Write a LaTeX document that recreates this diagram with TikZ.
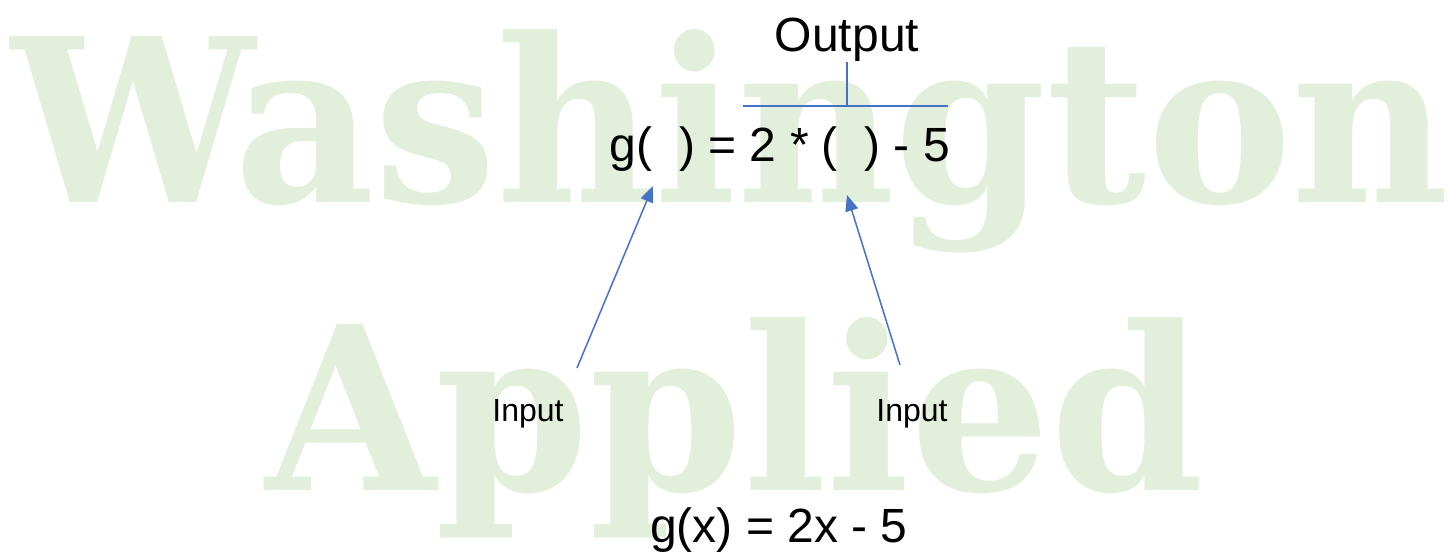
\documentclass[tikz,border=0pt]{standalone}
\usepackage{fontspec}
\setmainfont{Liberation Sans}
\newfontfamily\wmfont{DejaVu Serif Condensed}
\usetikzlibrary{arrows.meta}
\definecolor{wmgreen}{HTML}{E2EFDA}
\definecolor{lnblue}{HTML}{4472C4}
\tikzset{
  wmtext/.style={inner sep=0pt, outer sep=0pt, anchor=base west, text=wmgreen},
  bigtext/.style={inner sep=0pt, outer sep=0pt, anchor=base, font=\fontsize{24pt}{28pt}\selectfont},
  smalltext/.style={inner sep=0pt, outer sep=0pt, anchor=base, font=\fontsize{16pt}{19pt}\selectfont},
  bline/.style={draw=lnblue, line width=0.75pt},
  barrow/.style={bline, -{Triangle[length=8pt,width=6.5pt]}}
}
\begin{document}
\begin{tikzpicture}[x=0.5pt,y=-0.5pt]
\useasboundingbox (0,0) rectangle (1448,555);
% watermark
\node[wmtext] (wm1) at (11,203) {\resizebox{718.5pt}{86.5pt}{\wmfont\bfseries Washington}};
\node[wmtext] (wm2) at (265,491) {\resizebox{469.5pt}{86.5pt}{\wmfont\bfseries Applied}};
% texts
\node[bigtext] (out) at (847,52) {Output};
\node[bigtext] (eq) at (780,162) {g(\ \ ) = 2 * (\ \ ) - 5};
\node[smalltext] (inL) at (528,422) {Input};
\node[smalltext] (inR) at (912,422) {Input};
\node[bigtext] (fx) at (779,543) {g(x) = 2x - 5};
% bracket
\coordinate (hl) at (743,106);
\coordinate (hr) at (948,106);
\coordinate (vt) at (847,62);
\coordinate (vb) at (847,106);
\draw[bline] (hl) -- (hr);
\draw[bline] (vt) -- (vb);
% arrows
\coordinate (sL) at (577,368);
\coordinate (tL) at (653,186);
\coordinate (sR) at (900,365);
\coordinate (tR) at (847,195);
\draw[barrow] (sL) -- (tL);
\draw[barrow] (sR) -- (tR);
\end{tikzpicture}
\end{document}
